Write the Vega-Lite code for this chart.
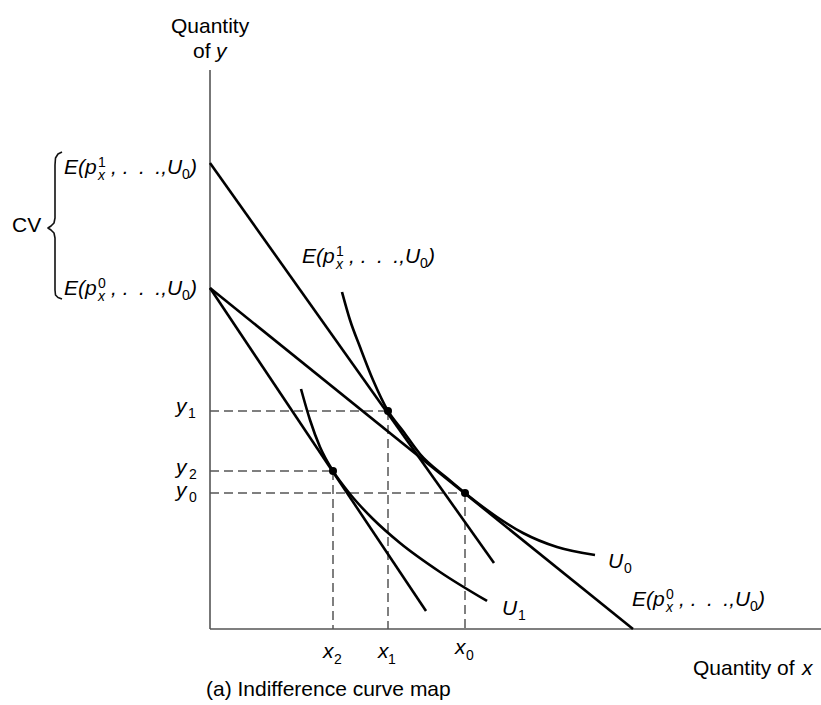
{
  "$schema": "https://vega.github.io/schema/vega-lite/v6.json",
  "width": 611,
  "height": 559,
  "autosize": {"type": "none"},
  "padding": {"left": 210, "top": 70, "right": 0, "bottom": 76},
  "background": "white",
  "config": {"view": {"stroke": null}},
  "datasets": {
    "axes": [
      {"x": 0, "y": 0, "x2": 0, "y2": 559},
      {"x": 0, "y": 0, "x2": 611, "y2": 0}
    ],
    "guides": [
      {"x": 0, "y": 218, "x2": 178, "y2": 218},
      {"x": 178, "y": 218, "x2": 178, "y2": 0},
      {"x": 0, "y": 158, "x2": 123, "y2": 158},
      {"x": 123, "y": 158, "x2": 123, "y2": 0},
      {"x": 0, "y": 136, "x2": 255, "y2": 136},
      {"x": 255, "y": 136, "x2": 255, "y2": 0}
    ],
    "budget": [
      {"line": "E1", "x": 0, "y": 466, "x2": 284, "y2": 66},
      {"line": "E0", "x": 0, "y": 341, "x2": 423, "y2": 0},
      {"line": "E0 shifted", "x": 0, "y": 341, "x2": 216, "y2": 18}
    ],
    "indifference": [
      {"curve": "U0", "x": 132, "y": 337},
      {"curve": "U0", "x": 140, "y": 309},
      {"curve": "U0", "x": 150, "y": 282},
      {"curve": "U0", "x": 163, "y": 249},
      {"curve": "U0", "x": 178, "y": 218},
      {"curve": "U0", "x": 193, "y": 198},
      {"curve": "U0", "x": 210, "y": 175},
      {"curve": "U0", "x": 237, "y": 151},
      {"curve": "U0", "x": 255, "y": 136},
      {"curve": "U0", "x": 287, "y": 112},
      {"curve": "U0", "x": 313, "y": 96},
      {"curve": "U0", "x": 347, "y": 82},
      {"curve": "U0", "x": 385, "y": 74},
      {"curve": "U1", "x": 91, "y": 240},
      {"curve": "U1", "x": 100, "y": 209},
      {"curve": "U1", "x": 110, "y": 182},
      {"curve": "U1", "x": 123, "y": 158},
      {"curve": "U1", "x": 140, "y": 135},
      {"curve": "U1", "x": 163, "y": 110},
      {"curve": "U1", "x": 190, "y": 86},
      {"curve": "U1", "x": 230, "y": 57},
      {"curve": "U1", "x": 277, "y": 28}
    ],
    "brace": [
      {"i": 1, "x": -148, "y": 477},
      {"i": 2, "x": -152, "y": 475},
      {"i": 3, "x": -154.5, "y": 471},
      {"i": 4, "x": -155, "y": 464},
      {"i": 5, "x": -155, "y": 411},
      {"i": 6, "x": -156, "y": 406},
      {"i": 7, "x": -159, "y": 403},
      {"i": 8, "x": -162, "y": 401},
      {"i": 9, "x": -159, "y": 399},
      {"i": 10, "x": -156, "y": 396},
      {"i": 11, "x": -155, "y": 391},
      {"i": 12, "x": -155, "y": 339},
      {"i": 13, "x": -154.5, "y": 334},
      {"i": 14, "x": -152, "y": 331.5},
      {"i": 15, "x": -148, "y": 330}
    ],
    "points": [
      {"pt": "x1,y1", "x": 178, "y": 218},
      {"pt": "x2,y2", "x": 123, "y": 158},
      {"pt": "x0,y0", "x": 255, "y": 136}
    ],
    "mathMain": [
      {"t": "E(p", "x": -146, "y": 455},
      {"t": ", .\u2002.\u2002.,U", "x": -99, "y": 455},
      {"t": ")", "x": -20, "y": 455},
      {"t": "E(p", "x": -146, "y": 334},
      {"t": ", .\u2002.\u2002.,U", "x": -99, "y": 334},
      {"t": ")", "x": -20, "y": 334},
      {"t": "E(p", "x": 92, "y": 366},
      {"t": ", .\u2002.\u2002.,U", "x": 139, "y": 366},
      {"t": ")", "x": 218, "y": 366},
      {"t": "E(p", "x": 422, "y": 23},
      {"t": ", .\u2002.\u2002.,U", "x": 469, "y": 23},
      {"t": ")", "x": 548, "y": 23},
      {"t": "U", "x": 398, "y": 61},
      {"t": "U", "x": 292, "y": 14},
      {"t": "y", "x": -34, "y": 216},
      {"t": "y", "x": -34, "y": 155},
      {"t": "y", "x": -34, "y": 132},
      {"t": "x", "x": 113, "y": -29},
      {"t": "x", "x": 168, "y": -29},
      {"t": "x", "x": 245, "y": -25},
      {"t": "y", "x": 6, "y": 571},
      {"t": "x", "x": 592, "y": -46}
    ],
    "mathScript": [
      {"t": "x", "x": -112, "y": 449},
      {"t": "x", "x": -112, "y": 328},
      {"t": "x", "x": 126, "y": 360},
      {"t": "x", "x": 456, "y": 17}
    ],
    "digitScript": [
      {"t": "1", "x": -112, "y": 462},
      {"t": "0", "x": -28, "y": 450},
      {"t": "0", "x": -112, "y": 341},
      {"t": "0", "x": -28, "y": 329},
      {"t": "1", "x": 126, "y": 373},
      {"t": "0", "x": 210, "y": 361},
      {"t": "0", "x": 456, "y": 30},
      {"t": "0", "x": 540, "y": 18},
      {"t": "0", "x": 414, "y": 56},
      {"t": "1", "x": 308, "y": 9},
      {"t": "1", "x": -22, "y": 211},
      {"t": "2", "x": -21, "y": 150},
      {"t": "0", "x": -21, "y": 127},
      {"t": "2", "x": 124, "y": -35},
      {"t": "1", "x": 178, "y": -35},
      {"t": "0", "x": 256, "y": -31}
    ],
    "plainText": [
      {"t": "Quantity", "x": -39, "y": 596},
      {"t": "of", "x": -17, "y": 571},
      {"t": "CV", "x": -198, "y": 397},
      {"t": "Quantity of", "x": 483, "y": -46},
      {"t": "(a) Indifference curve map", "x": -4, "y": -67}
    ]
  },
  "encoding": {
    "x": {"field": "x", "type": "quantitative", "scale": {"domain": [0, 611], "nice": false, "zero": false}, "axis": null},
    "y": {"field": "y", "type": "quantitative", "scale": {"domain": [0, 559], "nice": false, "zero": false}, "axis": null}
  },
  "layer": [
    {
      "data": {"name": "axes"},
      "mark": {"type": "rule", "color": "#555555", "strokeWidth": 1.6},
      "encoding": {"x2": {"field": "x2"}, "y2": {"field": "y2"}}
    },
    {
      "data": {"name": "guides"},
      "mark": {"type": "rule", "color": "#555555", "strokeWidth": 1.5, "strokeDash": [9, 5]},
      "encoding": {"x2": {"field": "x2"}, "y2": {"field": "y2"}}
    },
    {
      "data": {"name": "budget"},
      "mark": {"type": "rule", "color": "#000000", "strokeWidth": 2.6},
      "encoding": {"x2": {"field": "x2"}, "y2": {"field": "y2"}}
    },
    {
      "data": {"name": "indifference"},
      "mark": {"type": "line", "color": "#000000", "strokeWidth": 2.6, "interpolate": "monotone"},
      "encoding": {"detail": {"field": "curve"}}
    },
    {
      "data": {"name": "brace"},
      "mark": {"type": "line", "color": "#111111", "strokeWidth": 1.6, "interpolate": "linear", "strokeJoin": "round"},
      "encoding": {"order": {"field": "i", "type": "quantitative"}}
    },
    {
      "data": {"name": "points"},
      "mark": {"type": "point", "filled": true, "shape": "circle", "size": 64, "color": "#000000", "opacity": 1}
    },
    {
      "data": {"name": "mathMain"},
      "mark": {"type": "text", "font": "Liberation Sans", "fontStyle": "italic", "fontSize": 21, "align": "left", "baseline": "alphabetic", "color": "#000000"},
      "encoding": {"text": {"field": "t"}}
    },
    {
      "data": {"name": "mathScript"},
      "mark": {"type": "text", "font": "Liberation Sans", "fontStyle": "italic", "fontSize": 14, "align": "left", "baseline": "alphabetic", "color": "#000000"},
      "encoding": {"text": {"field": "t"}}
    },
    {
      "data": {"name": "digitScript"},
      "mark": {"type": "text", "font": "Liberation Sans", "fontSize": 14, "align": "left", "baseline": "alphabetic", "color": "#000000"},
      "encoding": {"text": {"field": "t"}}
    },
    {
      "data": {"name": "plainText"},
      "mark": {"type": "text", "font": "Liberation Sans", "fontSize": 21, "align": "left", "baseline": "alphabetic", "color": "#000000"},
      "encoding": {"text": {"field": "t"}}
    }
  ]
}
